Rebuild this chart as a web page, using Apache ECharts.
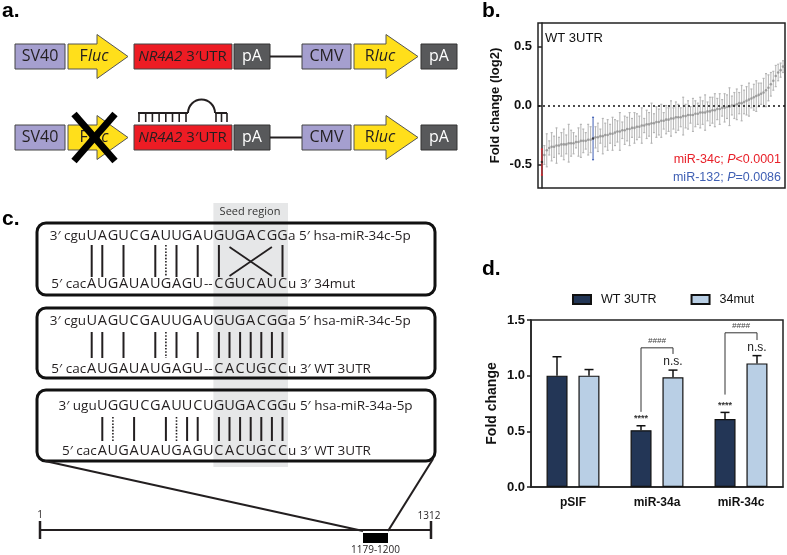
<!DOCTYPE html>
<html>
<head>
<meta charset="utf-8">
<script src="https://cdn.jsdelivr.net/npm/echarts@6/dist/echarts.min.js"></script>
<style>
  html, body { margin: 0; padding: 0; background: #fff; }
  #chart { width: 787px; height: 555px; }
</style>
</head>
<body>
<div id="chart"></div>
<script>
// ---- panel b: sorted miRNA screen, WT 3UTR (log2 fold change, mean and error) ----
var screenMean = [
  -0.48, -0.42, -0.38, -0.36, -0.35, -0.35, -0.34, -0.34, -0.33, -0.33,
  -0.33, -0.32, -0.32, -0.32, -0.31, -0.31, -0.30, -0.30, -0.30, -0.29,
  -0.29, -0.28, -0.27, -0.27, -0.26, -0.26, -0.25, -0.25, -0.24, -0.24,
  -0.23, -0.22, -0.22, -0.21, -0.21, -0.20, -0.20, -0.19, -0.19, -0.18,
  -0.18, -0.17, -0.17, -0.16, -0.16, -0.15, -0.15, -0.14, -0.14, -0.13,
  -0.13, -0.12, -0.12, -0.11, -0.11, -0.10, -0.10, -0.10, -0.09, -0.09,
  -0.08, -0.08, -0.08, -0.07, -0.07, -0.06, -0.06, -0.06, -0.05, -0.05,
  -0.04, -0.04, -0.03, -0.03, -0.02, -0.02, -0.01, -0.01, 0.00, 0.00,
  0.01, 0.02, 0.02, 0.03, 0.04, 0.05, 0.06, 0.07, 0.08, 0.09,
  0.10, 0.11, 0.13, 0.15, 0.18, 0.21, 0.25, 0.28, 0.30, 0.33
];
var screenErr = [
  0.11, 0.08, 0.14, 0.06, 0.12, 0.09, 0.15, 0.07, 0.10, 0.13,
  0.08, 0.16, 0.11, 0.09, 0.05, 0.12, 0.14, 0.10, 0.07, 0.13,
  0.11, 0.18, 0.09, 0.12, 0.06, 0.15, 0.10, 0.13, 0.08, 0.14,
  0.11, 0.09, 0.16, 0.07, 0.12, 0.10, 0.14, 0.08, 0.13, 0.11,
  0.09, 0.15, 0.06, 0.12, 0.10, 0.17, 0.08, 0.13, 0.11, 0.14,
  0.07, 0.12, 0.10, 0.15, 0.09, 0.13, 0.11, 0.08, 0.16, 0.10,
  0.12, 0.07, 0.14, 0.11, 0.09, 0.13, 0.10, 0.15, 0.08, 0.12,
  0.11, 0.14, 0.09, 0.13, 0.07, 0.12, 0.10, 0.16, 0.08, 0.11,
  0.13, 0.09, 0.15, 0.10, 0.12, 0.14, 0.08, 0.11, 0.13, 0.10,
  0.09, 0.12, 0.14, 0.11, 0.10, 0.08, 0.09, 0.07, 0.06, 0.05
];
var miR34cIndex = 0;
var miR132Index = 21;
var screenTicks = [-0.5, 0, 0.5];

// ---- panel d: luciferase fold change ----
var dCategories = ['pSIF', 'miR-34a', 'miR-34c'];
var wtMean = [1.00, 0.51, 0.61];
var wtErr = [0.17, 0.04, 0.06];
var mutMean = [1.00, 0.985, 1.11];
var mutErr = [0.055, 0.065, 0.07];
var wtMarks = ['', '****', '****'];
var mutMarks = ['', 'n.s.', 'n.s.'];
var bracketCats = [1, 2];
var bracketTop = [1.25, 1.385];
var bracketLeft = [0.675, 0.83];
var bracketRight = [1.195, 1.32];

var chart = echarts.init(document.getElementById('chart'));

var SANS = '"Open Sans", "Noto Sans", sans-serif';
var ARIAL = '"Liberation Sans", Arial, sans-serif';
var NARROW = '"Liberation Sans Narrow", "Liberation Sans", Arial, sans-serif';
var INK = '#231f20';

var G = [];
function box(x, y, w, h, fill, stroke, lw, r) {
  G.push({ type: 'rect', shape: { x: x, y: y, width: w, height: h, r: r || 0 },
    style: { fill: fill, stroke: stroke, lineWidth: lw } });
}
function seg(x1, y1, x2, y2, lw, dash, color) {
  G.push({ type: 'line', shape: { x1: x1, y1: y1, x2: x2, y2: y2 },
    style: { stroke: color || INK, lineWidth: lw, lineDash: dash || null } });
}
function txt(x, y, s, font, extra) {
  var st = { text: s, x: x, y: y, font: font, fill: INK, align: 'center', verticalAlign: 'middle' };
  for (var k in extra) st[k] = extra[k];
  G.push({ type: 'text', style: st });
}

// panel labels
txt(2, 11, 'a.', 'bold 21px ' + ARIAL, { align: 'left', fill: '#000' });
txt(482, 11, 'b.', 'bold 21px ' + ARIAL, { align: 'left', fill: '#000' });
txt(2, 219, 'c.', 'bold 21px ' + ARIAL, { align: 'left', fill: '#000' });
txt(482, 269, 'd.', 'bold 21px ' + ARIAL, { align: 'left', fill: '#000' });

// ---- panel a: reporter constructs ----
function arrow(x0, xb, xt, y, h) {
  var cy = y + h / 2;
  G.push({ type: 'polygon', shape: { points: [[x0, y], [xb, y], [xb, y - 9.5], [xt, cy], [xb, y + h + 9.5], [xb, y + h], [x0, y + h]] },
    style: { fill: '#ffdf1b', stroke: '#555', lineWidth: 1 } });
}
function richLabel(x, y, str, rich) {
  G.push({ type: 'text', style: { text: str, x: x, y: y, align: 'center', verticalAlign: 'middle', rich: rich, fill: INK, font: '16px ' + SANS } });
}
function construct(y) {
  var h = 25, cy = y + h / 2;
  box(15, y, 50, h, '#a59fcf', '#444', 1);
  txt(40, cy, 'SV40', '16px ' + SANS);
  arrow(68, 97, 128, y, h);
  richLabel(94, cy, '{n|F}{i|luc}', {
    n: { fontSize: 16, fontFamily: SANS, fill: INK },
    i: { fontSize: 16, fontFamily: SANS, fontStyle: 'italic', fill: INK } });
  box(134, y, 98, h, '#ed1c24', '#444', 1);
  richLabel(182.5, cy, '{i|NR4A2} {n|3\u2032UTR}', {
    n: { fontSize: 15, fontFamily: SANS, fill: INK },
    i: { fontSize: 15, fontFamily: SANS, fontStyle: 'italic', fill: INK } });
  box(234, y, 36, h, '#58595b', '#333', 1);
  txt(252, cy, 'pA', '16px ' + SANS, { fill: '#fff' });
  seg(270, cy, 302, cy, 2);
  box(302, y, 49, h, '#a59fcf', '#444', 1);
  txt(326.5, cy, 'CMV', '16px ' + SANS);
  arrow(354, 386, 418, y, h);
  richLabel(380, cy, '{n|R}{i|luc}', {
    n: { fontSize: 16, fontFamily: SANS, fill: INK },
    i: { fontSize: 16, fontFamily: SANS, fontStyle: 'italic', fill: INK } });
  box(421, y, 36, h, '#58595b', '#333', 1);
  txt(439, cy, 'pA', '16px ' + SANS, { fill: '#fff' });
}
construct(44);
construct(125);
// knocked out Fluc
seg(74, 114, 115, 161, 7, null, '#000');
seg(115, 114, 74, 161, 7, null, '#000');
// miRNA hairpin over the 3'UTR
seg(138, 113, 188, 113, 2);
seg(215, 113, 227, 113, 2);
G.push({ type: 'arc', shape: { cx: 201.5, cy: 113, r: 13.5, startAngle: Math.PI, endAngle: Math.PI * 2, clockwise: true },
  style: { stroke: INK, lineWidth: 2, fill: null } });
[139, 145.7, 152.4, 159.1, 165.8, 172.5, 179.2, 186, 216, 221.5, 227].forEach(function (x) {
  seg(x, 113, x, 122, 1.6);
});

// ---- panel c: seed pairing ----
var P0 = 91.7, PITCH = 10.6;
function px(k) { return P0 + PITCH * k; }
box(px(12) - 5.5, 203, px(18) - px(12) + 11, 264, '#e6e7e8', null, 0);
txt(250, 212, 'Seed region', '11px ' + SANS, { fill: '#333' });

function strand(y, pre, caps, k0, post) {
  var FS = '13.5px ' + SANS, FC = '14.5px ' + SANS;
  txt(px(k0) - 5.6, y, pre, FS, { align: 'right' });
  for (var j = 0; j < caps.length; j++) {
    var ch = caps.charAt(j);
    txt(px(k0 + j), y, ch === '-' ? '--' : ch, ch === '-' ? FS : FC);
  }
  txt(px(k0 + caps.length - 1) + 5.6, y, post, FS, { align: 'left' });
}
function pairs(y1, y2, solid, dotted) {
  solid.forEach(function (k) { seg(px(k), y1, px(k), y2, 2); });
  dotted.forEach(function (k) { seg(px(k), y1, px(k), y2, 1.6, [1.6, 1.6]); });
}

box(37, 223, 398, 72, null, '#111', 3, 9);
strand(236, '3\u2032 cgu', 'UAGUCGAUUGAUGUGACGG', 0, 'a 5\u2032 hsa-miR-34c-5p');
pairs(245, 277, [0, 1, 3, 6, 8, 10, 12, 18], [7]);
seg(px(13), 247, px(17), 276, 1.8);
seg(px(17), 247, px(13), 276, 1.8);
strand(284, '5\u2032 cac', 'AUGAUAUGAGU-CGUCAUC', 0, 'u 3\u2032 34mut');

box(37, 308, 398, 70, null, '#111', 3, 9);
strand(321, '3\u2032 cgu', 'UAGUCGAUUGAUGUGACGG', 0, 'a 5\u2032 hsa-miR-34c-5p');
pairs(332, 358, [0, 1, 3, 6, 8, 10, 12, 13, 14, 15, 16, 17, 18], [7]);
strand(369, '5\u2032 cac', 'AUGAUAUGAGU-CACUGCC', 0, 'u 3\u2032 WT 3UTR');

box(37, 390, 398, 71, null, '#111', 3, 9);
strand(406, '3\u2032 ugu', 'UGGUCGAUUCUGUGACGG', 1, 'u 5\u2032 hsa-miR-34a-5p');
pairs(417, 441, [1, 4, 7, 9, 10, 12, 13, 14, 15, 16, 17, 18], [2, 8]);
strand(451, '5\u2032 cac', 'AUGAUAUGAGUCACUGCC', 1, 'u 3\u2032 WT 3UTR');

// NR4A2 3'UTR map
seg(45, 461, 363, 531, 2);
seg(433, 459, 388, 531, 2);
seg(40, 530, 431, 530, 2);
seg(40, 521, 40, 539, 2.5);
seg(431, 521, 431, 539, 2.5);
box(363, 533, 25, 10, '#000', null, 0);
txt(40, 515, '1', '10px ' + SANS);
txt(429, 516, '1312', '10px ' + SANS);
txt(375.5, 550, '1179-1200', '10px ' + SANS);

// ---- panel b texts ----
txt(545, 38, 'WT 3UTR', '13px ' + ARIAL, { align: 'left', fill: '#111' });
G.push({ type: 'text', style: { text: '{r|miR-34c; }{ri|P}{r|<0.0001}', x: 781, y: 160, align: 'right', verticalAlign: 'middle',
  rich: { r: { fontSize: 12.5, fontFamily: ARIAL, fill: '#e8212a' }, ri: { fontSize: 12.5, fontFamily: ARIAL, fontStyle: 'italic', fill: '#e8212a' } } } });
G.push({ type: 'text', style: { text: '{r|miR-132; }{ri|P}{r|=0.0086}', x: 781, y: 178, align: 'right', verticalAlign: 'middle',
  rich: { r: { fontSize: 12.5, fontFamily: ARIAL, fill: '#4060b4' }, ri: { fontSize: 12.5, fontFamily: ARIAL, fontStyle: 'italic', fill: '#4060b4' } } } });

function screenColor(i) {
  if (i === miR34cIndex) return '#e8212a';
  if (i === miR132Index) return '#4060b4';
  return '#b5b5b5';
}
function screenErrRender(params, api) {
  var i = api.value(0), m = api.value(1), e = api.value(2);
  var top = api.coord([i, m + e]), bot = api.coord([i, m - e]);
  var c = screenColor(i);
  return { type: 'group', children: [
    { type: 'line', shape: { x1: top[0], y1: top[1], x2: bot[0], y2: bot[1] }, style: { stroke: c, lineWidth: 1 } },
    { type: 'line', shape: { x1: top[0] - 1, y1: top[1], x2: top[0] + 1, y2: top[1] }, style: { stroke: c, lineWidth: 1.2 } },
    { type: 'line', shape: { x1: bot[0] - 1, y1: bot[1], x2: bot[0] + 1, y2: bot[1] }, style: { stroke: c, lineWidth: 1.2 } }
  ] };
}

function barErrRender(offset, marks) {
  return function (params, api) {
    var c = api.value(0), m = api.value(1), e = api.value(2);
    var base = api.coord([c, m]), top = api.coord([c, m + e]);
    var x = base[0] + offset;
    var kids = [
      { type: 'line', shape: { x1: x, y1: base[1], x2: x, y2: top[1] }, style: { stroke: '#111', lineWidth: 1.5 } },
      { type: 'line', shape: { x1: x - 4.5, y1: top[1], x2: x + 4.5, y2: top[1] }, style: { stroke: '#111', lineWidth: 1.5 } }
    ];
    var mark = marks[params.dataIndex];
    if (mark === 'n.s.') {
      kids.push({ type: 'text', style: { text: mark, x: x, y: top[1] - 8, align: 'center', verticalAlign: 'middle', font: '12px ' + NARROW, fill: '#222' } });
    } else if (mark) {
      kids.push({ type: 'text', style: { text: mark, x: x, y: top[1] - 7, align: 'center', verticalAlign: 'middle', font: 'bold 9px ' + ARIAL, fill: '#333' } });
    }
    return { type: 'group', children: kids };
  };
}
function bracketRender(params, api) {
  var c = api.value(0);
  var pT = api.coord([c, api.value(1)]), pL = api.coord([c, api.value(2)]), pR = api.coord([c, api.value(3)]);
  var xl = pT[0] - 16, xr = pT[0] + 16;
  return { type: 'group', children: [
    { type: 'polyline', shape: { points: [[xl, pL[1]], [xl, pT[1]], [xr, pT[1]], [xr, pR[1]]] }, style: { stroke: '#333', lineWidth: 1, fill: null } },
    { type: 'text', style: { text: '####', x: pT[0], y: pT[1] - 7, align: 'center', verticalAlign: 'middle', font: 'italic 8px ' + ARIAL, fill: '#444' } }
  ] };
}

var option = {
  animation: false,
  backgroundColor: '#fff',
  graphic: { elements: G },
  legend: {
    data: ['WT 3UTR', '34mut'],
    left: 567, top: 288,
    itemWidth: 18, itemHeight: 9, itemGap: 34,
    icon: 'rect',
    textStyle: { fontSize: 12.5, color: '#111', fontFamily: ARIAL, padding: [0, 0, 0, 5] }
  },
  grid: [
    { left: 538, top: 23, width: 247, height: 165, show: true, borderColor: '#222', borderWidth: 1.5, outerBoundsMode: 'none' },
    { left: 531, top: 320, width: 252, height: 167, show: true, borderColor: '#222', borderWidth: 1.5, outerBoundsMode: 'none' }
  ],
  xAxis: [
    { gridIndex: 0, type: 'value', min: -1.6, max: 99.8, show: false },
    { gridIndex: 1, type: 'category', data: dCategories,
      axisLine: { lineStyle: { color: '#222', width: 1.5 } },
      axisTick: { alignWithLabel: true, length: 5, lineStyle: { color: '#222', width: 1.5 } },
      axisLabel: { margin: 10, fontSize: 12, fontWeight: 'bold', color: '#111', fontFamily: ARIAL } }
  ],
  yAxis: [
    { gridIndex: 0, type: 'value', min: -0.7, max: 0.7,
      name: 'Fold change (log2)', nameLocation: 'middle', nameGap: 36,
      nameTextStyle: { fontSize: 13, fontWeight: 'bold', color: '#111', fontFamily: ARIAL },
      axisLine: { show: true, lineStyle: { color: '#222', width: 1.5 } },
      axisTick: { show: true, customValues: screenTicks, length: 4, lineStyle: { color: '#222', width: 1.5 } },
      axisLabel: { customValues: screenTicks, margin: 6, fontSize: 13, fontWeight: 'bold', color: '#111', fontFamily: ARIAL,
        formatter: function (v) { return v.toFixed(1); } },
      splitLine: { show: false } },
    { gridIndex: 1, type: 'value', min: 0, max: 1.5, interval: 0.5,
      name: 'Fold change', nameLocation: 'middle', nameGap: 32,
      nameTextStyle: { fontSize: 14, fontWeight: 'bold', color: '#111', fontFamily: ARIAL },
      axisLine: { show: true, lineStyle: { color: '#222', width: 1.5 } },
      axisTick: { show: true, length: 4, lineStyle: { color: '#222', width: 1.5 } },
      axisLabel: { margin: 6, fontSize: 13, fontWeight: 'bold', color: '#111', fontFamily: ARIAL,
        formatter: function (v) { return v.toFixed(1); } },
      splitLine: { show: false } }
  ],
  series: [
    { name: 'screen error', type: 'custom', xAxisIndex: 0, yAxisIndex: 0,
      data: screenMean.map(function (m, i) { return [i, m, screenErr[i]]; }),
      encode: { x: 0, y: 1 }, renderItem: screenErrRender, z: 2 },
    { name: 'screen', type: 'scatter', xAxisIndex: 0, yAxisIndex: 0, symbolSize: 2.6, z: 3,
      data: screenMean.map(function (m, i) {
        return { value: [i, m], itemStyle: { color: (i === miR34cIndex || i === miR132Index) ? '#222' : '#8f8f8f' } };
      }),
      markLine: { silent: true, symbol: 'none', label: { show: false },
        lineStyle: { color: '#111', width: 1.5, type: [2, 3] }, data: [{ yAxis: 0 }] } },
    { name: 'WT 3UTR', type: 'bar', xAxisIndex: 1, yAxisIndex: 1, data: wtMean,
      barWidth: 21, barGap: '52%',
      itemStyle: { color: '#233656', borderColor: '#111', borderWidth: 1.2 } },
    { name: '34mut', type: 'bar', xAxisIndex: 1, yAxisIndex: 1, data: mutMean,
      barWidth: 21,
      itemStyle: { color: '#b9cfe5', borderColor: '#111', borderWidth: 1.2 } },
    { name: 'wt error', type: 'custom', xAxisIndex: 1, yAxisIndex: 1, z: 4,
      data: wtMean.map(function (m, i) { return [i, m, wtErr[i]]; }),
      renderItem: barErrRender(-16, wtMarks) },
    { name: 'mut error', type: 'custom', xAxisIndex: 1, yAxisIndex: 1, z: 4,
      data: mutMean.map(function (m, i) { return [i, m, mutErr[i]]; }),
      renderItem: barErrRender(16, mutMarks) },
    { name: 'brackets', type: 'custom', xAxisIndex: 1, yAxisIndex: 1, z: 4,
      data: bracketCats.map(function (c, i) { return [c, bracketTop[i], bracketLeft[i], bracketRight[i]]; }),
      renderItem: bracketRender }
  ]
};
chart.setOption(option);
</script>
</body>
</html>
